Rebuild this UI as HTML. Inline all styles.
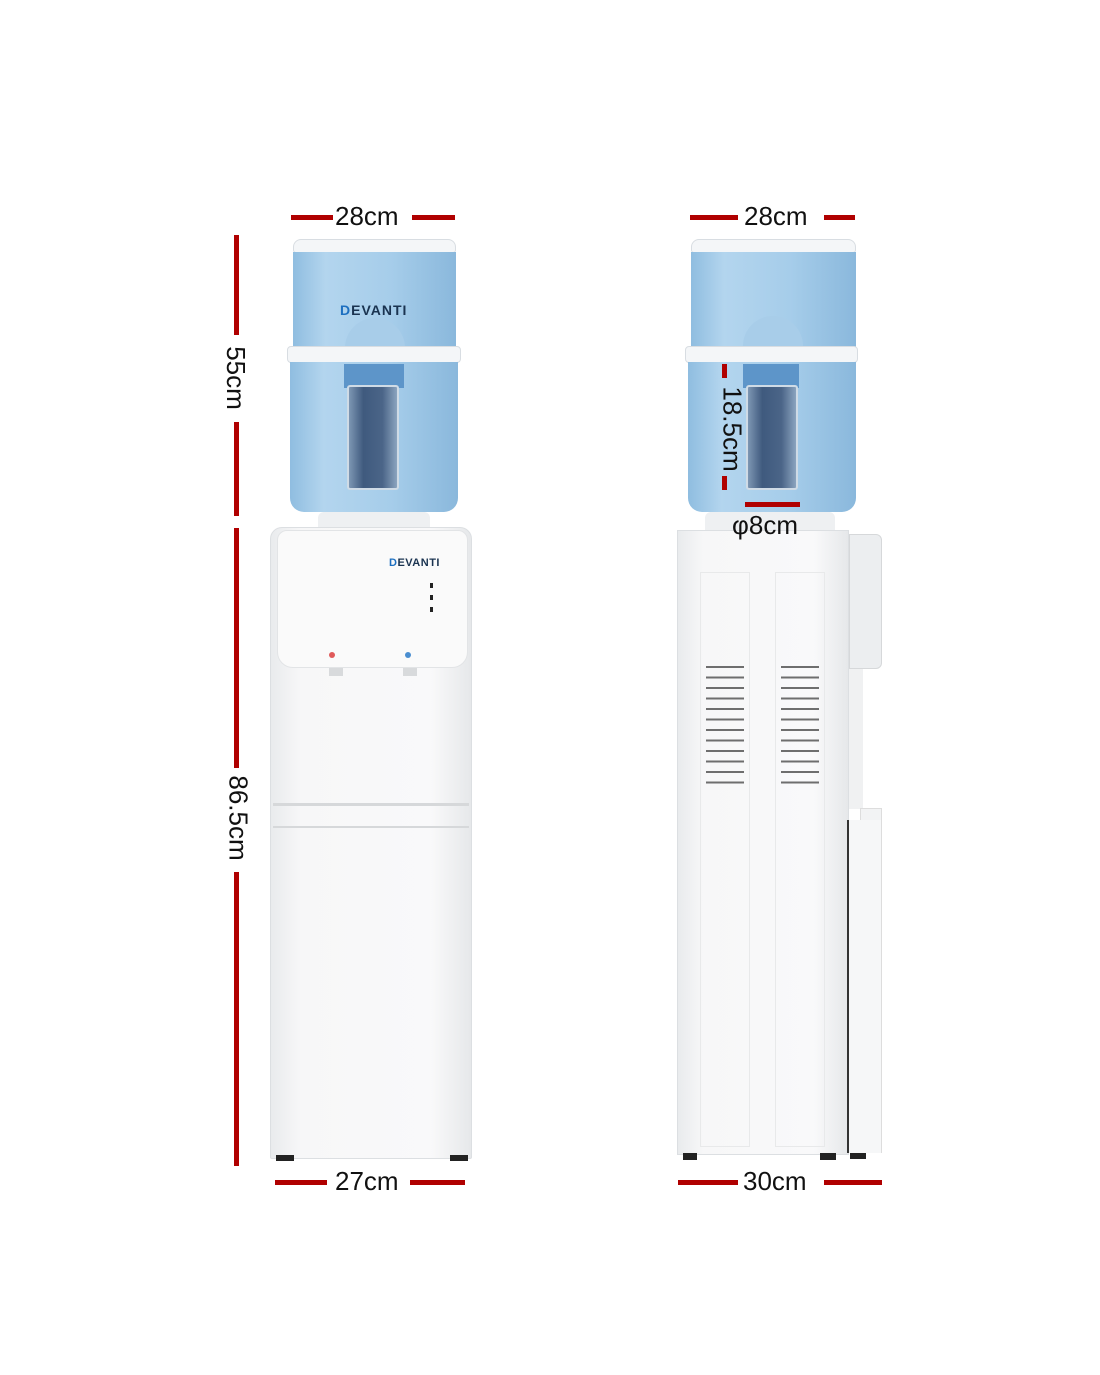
<!DOCTYPE html>
<html><head><meta charset="utf-8"><style>
body{margin:0;width:1100px;height:1375px;background:#fff;position:relative;overflow:hidden;font-family:"Liberation Sans",sans-serif}
div{position:absolute;box-sizing:border-box}
.r{background:#b00000}
.t{font-size:26px;color:#111;line-height:1;white-space:nowrap}
.tank{background:linear-gradient(90deg,#8fbde0,#b3d5ee 20%,#a6cdea 60%,#8ab8dc)}
.ring{background:#f4f6f8;border:1px solid #d8dde2;border-radius:4px}
.wh{background:linear-gradient(90deg,#e9ebed,#f7f7f8 15%,#f9f9fa 80%,#e6e8ea)}
.vent{height:2px;background:#6e6e6e;width:38px}
</style></head><body>

<!-- LEFT dispenser -->
<div class="ring" style="left:293px;top:239px;width:163px;height:14px;border-radius:8px 8px 3px 3px"></div>
<div class="tank" style="left:293px;top:252px;width:163px;height:96px"></div>
<div style="left:340px;top:302px;font-size:14px;color:#1a3350;font-weight:bold;letter-spacing:1px"><span style="color:#1d6fc0">D</span>EVANTI</div>
<div style="left:345px;top:318px;width:60px;height:32px;border-radius:30px 30px 0 0;background:#a8cde9"></div>
<div class="ring" style="left:287px;top:346px;width:174px;height:17px"></div>
<div class="tank" style="left:290px;top:362px;width:168px;height:150px;border-radius:0 0 14px 14px"></div>
<div style="left:344px;top:364px;width:60px;height:24px;background:#5d95c9"></div>
<div style="left:347px;top:385px;width:52px;height:105px;background:linear-gradient(90deg,#7d96b3,#3f5a7e 30%,#4b6588 70%,#8ba4bf);border:2px solid #cfdbe6;border-radius:3px"></div>
<div style="left:318px;top:512px;width:112px;height:16px;background:#eef0f2;border-radius:6px 6px 0 0"></div>
<div class="wh" style="left:270px;top:527px;width:202px;height:632px;border-radius:12px 12px 2px 2px;border:1px solid #dcdfe2"></div>
<div style="left:277px;top:530px;width:191px;height:138px;background:#fafafa;border-radius:10px 10px 16px 16px;border:1px solid #e2e4e6"></div>
<div style="left:389px;top:557px;font-size:11px;color:#1a3350;font-weight:bold;letter-spacing:.5px"><span style="color:#1d6fc0">D</span>EVANTI</div>
<div style="left:430px;top:583px;width:3px;height:5px;background:#222"></div>
<div style="left:430px;top:595px;width:3px;height:5px;background:#222"></div>
<div style="left:430px;top:607px;width:3px;height:5px;background:#222"></div>
<div style="left:329px;top:652px;width:6px;height:6px;border-radius:50%;background:#e05a5a"></div>
<div style="left:405px;top:652px;width:6px;height:6px;border-radius:50%;background:#4a8ed0"></div>
<div style="left:329px;top:668px;width:14px;height:8px;background:#d8dadc"></div>
<div style="left:403px;top:668px;width:14px;height:8px;background:#d8dadc"></div>
<div style="left:273px;top:803px;width:196px;height:3px;background:#d6d8da"></div>
<div style="left:273px;top:826px;width:196px;height:2px;background:#d6d8da"></div>
<div style="left:276px;top:1155px;width:18px;height:6px;background:#222"></div>
<div style="left:450px;top:1155px;width:18px;height:6px;background:#222"></div>

<!-- RIGHT dispenser -->
<div class="ring" style="left:691px;top:239px;width:165px;height:14px;border-radius:8px 8px 3px 3px"></div>
<div class="tank" style="left:691px;top:252px;width:165px;height:96px"></div>
<div style="left:743px;top:316px;width:60px;height:34px;border-radius:30px 30px 0 0;background:#a8cde9"></div>
<div class="ring" style="left:685px;top:346px;width:173px;height:17px"></div>
<div class="tank" style="left:688px;top:362px;width:168px;height:150px;border-radius:0 0 14px 14px"></div>
<div style="left:743px;top:364px;width:56px;height:24px;background:#5d95c9"></div>
<div style="left:746px;top:385px;width:52px;height:105px;background:linear-gradient(90deg,#7d96b3,#3f5a7e 30%,#4b6588 70%,#8ba4bf);border:2px solid #cfdbe6;border-radius:3px"></div>
<div style="left:705px;top:512px;width:130px;height:20px;background:#eef0f2;border-radius:6px 6px 0 0"></div>
<div class="wh" style="left:677px;top:530px;width:172px;height:625px;border:1px solid #dcdfe2"></div>
<div style="left:849px;top:534px;width:33px;height:135px;background:#eceef0;border:1px solid #d6d8da;border-radius:0 6px 6px 0"></div>
<div style="left:849px;top:669px;width:14px;height:140px;background:#f0f1f2"></div>
<div style="left:860px;top:808px;width:22px;height:24px;background:#f2f3f4;border:1px solid #ddd"></div>
<div style="left:847px;top:820px;width:35px;height:333px;background:#f6f7f8;border-left:2px solid #333;border-right:1px solid #ddd"></div>
<div style="left:700px;top:572px;width:50px;height:575px;border:1px solid #e8e9ea"></div>
<div style="left:775px;top:572px;width:50px;height:575px;border:1px solid #e8e9ea"></div>
<div class="vent" style="left:706px;top:666px;box-shadow:0 10.5px #6e6e6e,0 21px #6e6e6e,0 31.5px #6e6e6e,0 42px #6e6e6e,0 52.5px #6e6e6e,0 63px #6e6e6e,0 73.5px #6e6e6e,0 84px #6e6e6e,0 94.5px #6e6e6e,0 105px #6e6e6e,0 115.5px #6e6e6e"></div>
<div class="vent" style="left:781px;top:666px;box-shadow:0 10.5px #6e6e6e,0 21px #6e6e6e,0 31.5px #6e6e6e,0 42px #6e6e6e,0 52.5px #6e6e6e,0 63px #6e6e6e,0 73.5px #6e6e6e,0 84px #6e6e6e,0 94.5px #6e6e6e,0 105px #6e6e6e,0 115.5px #6e6e6e"></div>
<div style="left:683px;top:1153px;width:14px;height:7px;background:#222"></div>
<div style="left:820px;top:1153px;width:16px;height:7px;background:#222"></div>
<div style="left:850px;top:1153px;width:16px;height:6px;background:#222"></div>

<!-- Dimensions -->
<div class="r" style="left:291px;top:215px;width:42px;height:5px"></div>
<div class="r" style="left:412px;top:215px;width:43px;height:5px"></div>
<div class="t" style="left:335px;top:203px">28cm</div>
<div class="r" style="left:690px;top:215px;width:48px;height:5px"></div>
<div class="r" style="left:824px;top:215px;width:31px;height:5px"></div>
<div class="t" style="left:744px;top:203px">28cm</div>

<div class="r" style="left:234px;top:235px;width:5px;height:100px"></div>
<div class="r" style="left:234px;top:422px;width:5px;height:94px"></div>
<div class="t" style="left:204px;top:365px;transform:rotate(90deg)">55cm</div>
<div class="r" style="left:234px;top:528px;width:5px;height:240px"></div>
<div class="r" style="left:234px;top:872px;width:5px;height:294px"></div>
<div class="t" style="left:196px;top:805px;transform:rotate(90deg)">86.5cm</div>

<div class="r" style="left:275px;top:1180px;width:52px;height:5px"></div>
<div class="r" style="left:410px;top:1180px;width:55px;height:5px"></div>
<div class="t" style="left:335px;top:1168px">27cm</div>
<div class="r" style="left:678px;top:1180px;width:60px;height:5px"></div>
<div class="r" style="left:824px;top:1180px;width:58px;height:5px"></div>
<div class="t" style="left:743px;top:1168px">30cm</div>

<div class="r" style="left:722px;top:364px;width:5px;height:14px"></div>
<div class="r" style="left:722px;top:476px;width:5px;height:14px"></div>
<div class="t" style="left:690px;top:416px;transform:rotate(90deg)">18.5cm</div>
<div class="r" style="left:745px;top:502px;width:55px;height:5px"></div>
<div class="t" style="left:732px;top:512px">φ8cm</div>
</body></html>
